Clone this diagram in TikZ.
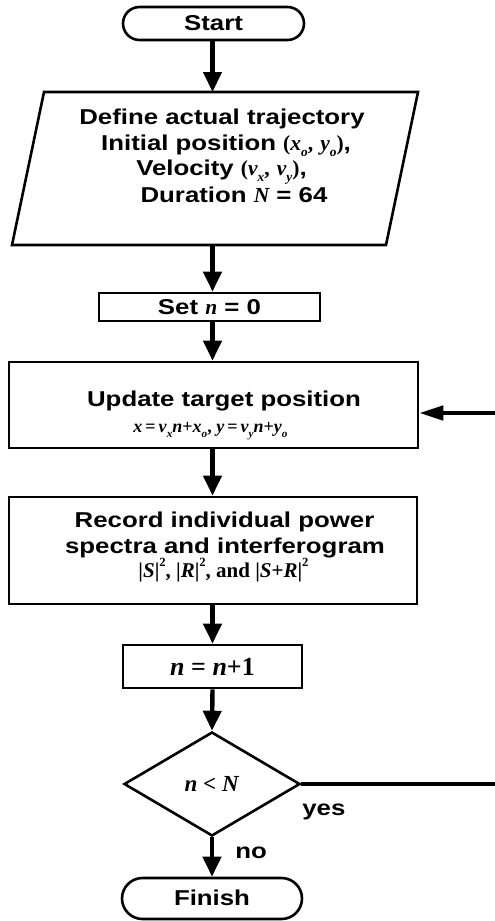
\documentclass[tikz,border=0pt]{standalone}
\usepackage{fontspec}
\setmainfont{Liberation Sans}[FakeStretch=1.2]
\newfontfamily\srf{Liberation Serif}
\usetikzlibrary{shapes.geometric,shapes.misc,arrows.meta}
\newcommand{\mv}[1]{{\srf\itshape #1}}
\newcommand{\ms}[1]{\raisebox{-0.3em}{\scalebox{0.62}{\srf\itshape #1}}}
\newcommand{\mup}[1]{\raisebox{0.5em}{\scalebox{0.6}{\srf #1}}}
\begin{document}
\begin{tikzpicture}[x=0.5pt,y=-0.5pt,
  every node/.style={font=\fontsize{10.75pt}{13pt}\selectfont\bfseries, inner sep=0pt},
  shapeline/.style={draw, line width=1.3pt},
  procbox/.style={shapeline, rectangle},
  termbox/.style={shapeline, rounded rectangle},
  decbox/.style={shapeline, diamond, aspect=1.69},
  txt/.style={anchor=base},
  lbl/.style={anchor=base west},
  arr/.style={line width=2.2pt, -{Triangle[length=10pt,width=9pt]}},
  looparr/.style={line width=2.2pt, line join=miter, -{Triangle[length=12pt,width=7pt]}},
]
\useasboundingbox (0,0) rectangle (494,921);
\fill[white] (0,0) rectangle (494,921);
\coordinate (col) at (212.5,0);

% Start
\node[termbox, minimum width=90.5pt, minimum height=16.5pt, text height=8pt, text depth=0.5pt] (start) at (213.5,23.5) {Start};

% Define (parallelogram)
\coordinate (defTL) at (44,92);
\coordinate (defTR) at (418,92);
\coordinate (defBR) at (386,245);
\coordinate (defBL) at (12,245);
\draw[shapeline, line join=miter] (defTL) -- (defTR) -- (defBR) -- (defBL) -- cycle;
\coordinate (defTop) at (212.5,92);
\coordinate (defBot) at (212.5,245);
\node[txt] (def1) at (222,124) {Define actual trajectory};
\node[txt] (def2) at (226,150) {Initial position {\srf(}\mv{x}\ms{o}{\srf,} \mv{y}\ms{o}{\srf)},};
\node[txt] (def3) at (221.5,175) {Velocity {\srf(}\mv{v}\ms{x}{\srf,} \mv{v}\ms{y}{\srf)},};
\node[txt] (def4) at (234,202) {Duration \mv{N} = 64};

% Set n = 0
\node[procbox, minimum width=110.5pt, minimum height=14pt] (set) at (209.5,307) {Set \mv{n} = 0};

% Update
\node[procbox, minimum width=204.5pt, minimum height=43pt] (update) at (213.5,405) {};
\node[txt] (upd1) at (224,406) {Update target position};
\node[txt, font=\fontsize{9pt}{11pt}\selectfont\bfseries\srf] (upd2) at (210.5,432)
  {\textit{x}\,=\,\textit{v}\ms{x}\textit{n}+\textit{x}\ms{o}, \textit{y}\,=\,\textit{v}\ms{y}\textit{n}+\textit{y}\ms{o}};

% Record
\node[procbox, minimum width=204pt, minimum height=53.5pt] (record) at (213,550.5) {};
\node[txt] (rec1) at (224.5,527) {Record individual power};
\node[txt] (rec2) at (225,553) {spectra and interferogram};
\node[txt, font=\fontsize{10.5pt}{12pt}\selectfont\bfseries\srf] (rec3) at (223.5,577)
  {|\textit{S}|\mup{2}, |\textit{R}|\mup{2}, and |\textit{S}+\textit{R}|\mup{2}};

% n = n+1
\node[procbox, minimum width=89.5pt, minimum height=21.5pt,
      font=\fontsize{13pt}{13pt}\selectfont\bfseries\srf] (inc) at (212.5,666.5) {\textit{n} = \textit{n}+1};

% decision
\node[decbox, minimum width=88pt, minimum height=52pt,
      font=\fontsize{11.5pt}{12pt}\selectfont\bfseries\srf] (dec) at (212,784) {\textit{n} < \textit{N}};

% Finish
\node[termbox, minimum width=90pt, minimum height=20.5pt, text height=8pt, text depth=1pt] (finish) at (212,898.5) {Finish};

% labels
\node[lbl] (yes) at (302,815) {yes};
\node[lbl] (no) at (235,858) {no};

% connectors
\draw[arr] (start.south -| col) -- (defTop);
\draw[arr] (defBot) -- (set.north -| col);
\draw[arr] (set.south -| col) -- (update.north -| col);
\draw[arr] (update.south -| col) -- (record.north -| col);
\draw[arr] (record.south -| col) -- (inc.north -| col);
\draw[arr] (inc.south -| col) -- (dec.north);
\draw[arr] (dec.south) -- (finish.north);
\coordinate (loopA) at (510,784);
\coordinate (loopB) at (510,413);
\draw[looparr] (dec.east) -- (loopA) -- (loopB) -- (update.east |- loopB);
\end{tikzpicture}
\end{document}
